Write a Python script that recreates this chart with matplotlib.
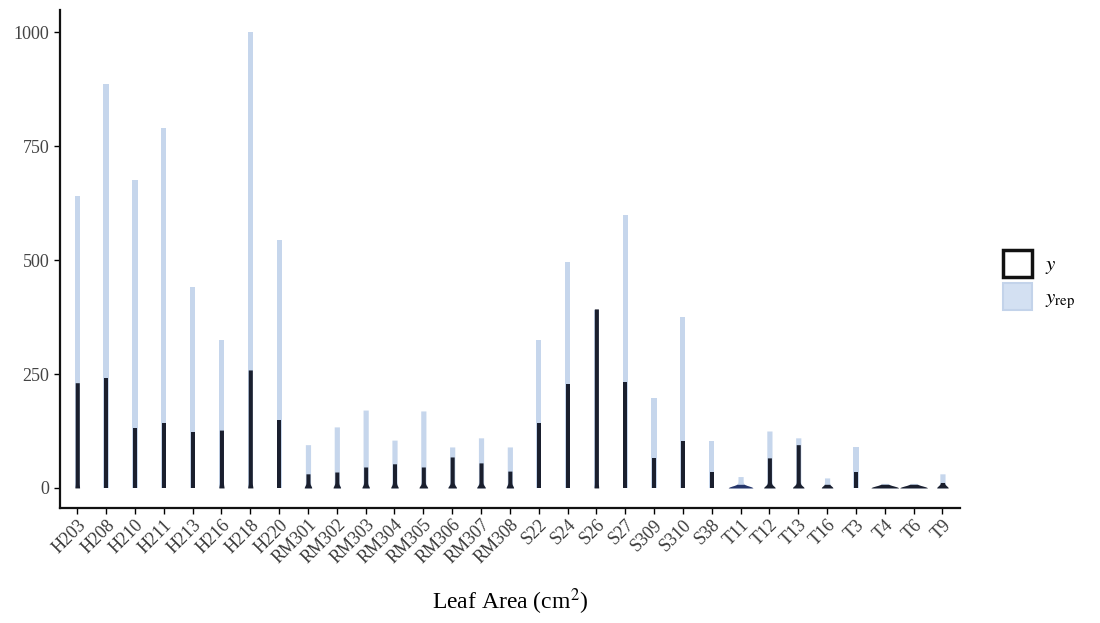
import numpy as np
import matplotlib
matplotlib.use("Agg")
import matplotlib.pyplot as plt
from matplotlib.patches import Patch

plt.rcParams["font.family"] = ["Liberation Serif", "DejaVu Serif"]
plt.rcParams["mathtext.fontset"] = "stix"

groups = ["H203", "H208", "H210", "H211", "H213", "H216", "H218", "H220",
          "RM301", "RM302", "RM303", "RM304", "RM305", "RM306", "RM307", "RM308",
          "S22", "S24", "S26", "S27", "S309", "S310", "S38",
          "T11", "T12", "T13", "T16", "T3", "T4", "T6", "T9"]
# upper extent of replicated leaf area per group
yrep_max = [640, 886, 677, 791, 442, 325, 1000, 545,
            95, 134, 171, 105, 169, 90, 110, 90,
            325, 497, 390, 600, 198, 375, 103,
            25, 125, 110, 22, 90, 10, 10, 31]
# upper extent of observed leaf area per group
y_max = [231, 242, 132, 143, 123, 127, 259, 149,
         31, 35, 46, 53, 46, 68, 55, 37,
         143, 229, 393, 233, 66, 103, 35,
         8, 66, 95, 8, 35, 8, 8, 12]
# width of the density foot near zero (observed)
foot_width = [0.16, 0.14, 0.14, 0.14, 0.14, 0.18, 0.18, 0.14,
              0.26, 0.26, 0.26, 0.26, 0.3, 0.3, 0.3, 0.26,
              0.14, 0.14, 0.16, 0.14, 0.14, 0.14, 0.14,
              0.85, 0.4, 0.4, 0.4, 0.14, 0.95, 0.95, 0.4]

LIGHT = "#c6d6ec"
DARK = "#1a1f2e"
NAVY = "#25356a"

fig = plt.figure(figsize=(11, 6.23), dpi=100)
ax = fig.add_axes([0.0545, 0.1846, 0.818, 0.80])

x = np.arange(len(groups))


def violin_outline(cx, top, stem, foot, foot_h):
    h = np.linspace(0, top, 300)
    w = stem + (foot - stem) * np.exp(-(h / foot_h) ** 2)
    return h, cx - w / 2, cx + w / 2


for i in x:
    h, l, r = violin_outline(i, yrep_max[i], 0.18, max(foot_width[i] * 0.9, 0.18), 6)
    ax.fill_betweenx(h, l, r, color=LIGHT, lw=0, zorder=2)
    h, l, r = violin_outline(i, y_max[i], 0.14, foot_width[i], 6)
    col = NAVY if groups[i] == "T11" else DARK
    ax.fill_betweenx(h, l, r, color=col, lw=0, zorder=3)

ax.set_xlim(-0.6, len(groups) - 1 + 0.6)
ax.set_ylim(-44, 1050)
ax.set_yticks([0, 250, 500, 750, 1000])
ax.set_xticks(x)
ax.set_xticklabels(groups, rotation=45, ha="right", va="top",
                   rotation_mode="anchor", fontsize=13, color="#3a3a3a")
ax.tick_params(axis="y", labelsize=13, labelcolor="#444444", length=4, width=1)
ax.tick_params(axis="x", length=4, width=1, pad=2)
for s in ["top", "right"]:
    ax.spines[s].set_visible(False)
for s in ["left", "bottom"]:
    ax.spines[s].set_linewidth(1.6)
    ax.spines[s].set_color("#111111")

ax.set_xlabel("Leaf Area (cm$^2$)", fontsize=17, labelpad=14)

handles = [Patch(facecolor="white", edgecolor="#111111", linewidth=2.5),
           Patch(facecolor="#d3e0f2", edgecolor="#c3d3ea", linewidth=1.5)]
fig.legend(handles, ["$y$", "$y_{\\mathrm{rep}}$"], loc="center left",
           bbox_to_anchor=(0.895, 0.55), frameon=False, fontsize=15,
           handlelength=1.4, handleheight=1.6, handletextpad=0.6,
           labelspacing=0.3)

fig.savefig("out.png", dpi=100)
